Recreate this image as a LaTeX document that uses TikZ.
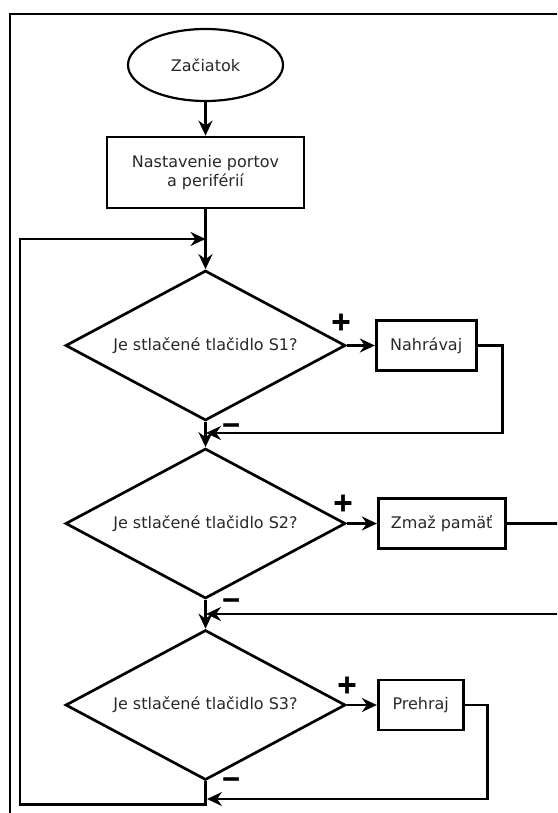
\documentclass[tikz,border=0pt]{standalone}
\usepackage{fontspec}
\setmainfont{DejaVu Sans}
\newfontfamily\signfont[FakeBold=2]{DejaVu Sans Bold}
\usepackage{tikz}
\usetikzlibrary{arrows.meta,positioning,shapes.geometric}
\definecolor{ink}{RGB}{40,40,40}
\tikzset{
  txt/.style={font=\fontsize{16}{19.5}\selectfont, text=ink},
  terminal/.style={
    ellipse, draw, line width=2.2pt, inner sep=0pt, txt,
    minimum width=155pt, minimum height=72pt
  },
  proc/.style={
    rectangle, draw, line width=2.7pt, align=center, inner sep=0pt, txt,
    minimum height=50pt
  },
  decision/.style={
    diamond, draw, line width=2.7pt, aspect=1.87, inner sep=0pt, txt,
    minimum width=280pt, minimum height=150pt
  },
  plus/.style={font=\signfont\fontsize{26}{26}\selectfont, inner sep=0pt},
  minus/.style={font=\signfont\fontsize{24}{24}\selectfont, inner sep=0pt},
  edge/.style={-{Stealth[length=15pt,width=14pt,inset=5pt]}, line width=2.7pt},
  link/.style={line width=2.7pt}
}

\begin{document}
\begin{tikzpicture}[x=1pt, y=-1pt, >=Stealth]
\useasboundingbox (0,0) rectangle (557,813);
\clip (0,0) rectangle (557,813);
\draw[line width=2pt] (10,14) rectangle (620,880);

\node[terminal] (start) at (205.5,65) {Začiatok};
\node[proc, minimum width=197pt, minimum height=71pt] (setup) at (205.5,172.5) {Nastavenie portov\\a periférií};
\node[decision] (d1) at (205.5,345.5) {Je stlačené tlačidlo S1?};
\node[decision] (d2) at (205.5,523.5) {Je stlačené tlačidlo S2?};
\node[decision] (d3) at (205.5,705) {Je stlačené tlačidlo S3?};
\node[proc, minimum width=100pt, right=28pt of d1.east] (rec) {Nahrávaj};
\node[proc, minimum width=127pt, right=30pt of d2.east] (erase) {Zmaž pamäť};
\node[proc, minimum width=85pt, right=30pt of d3.east] (play) {Prehraj};

\coordinate (j0) at (205.5,239);
\coordinate (m1) at (206,433);
\coordinate (m2) at (206,614);
\coordinate (m3) at (207,799);

\draw[edge] (start) -- (setup);
\draw[edge] (setup) -- (d1);
\draw[edge] (d1) -- (d2);
\draw[edge] (d2) -- (d3);
\draw[edge] (d1.east) -- (rec);
\draw[edge] (d2.east) -- (erase);
\draw[edge] (d3.east) -- (play);
\draw[edge] (rec.east) -- ++(25,0) |- (m1);
\draw[edge] (erase.east) -- ++(80,0) |- (m2);
\draw[edge] (play.east) -- ++(23,0) |- (m3);
\draw[edge] (d3.south) -- ++(0,23) -| (20,239) -- (j0);

\node[plus] (p1) at (341,322) {+};
\node[plus] (p2) at (343,503) {+};
\node[plus] (p3) at (347,685) {+};
\node[minus] (n1) at (231,428) {−};
\node[minus] (n2) at (231,603) {−};
\node[minus] (n3) at (231,782) {−};
\end{tikzpicture}
\end{document}
